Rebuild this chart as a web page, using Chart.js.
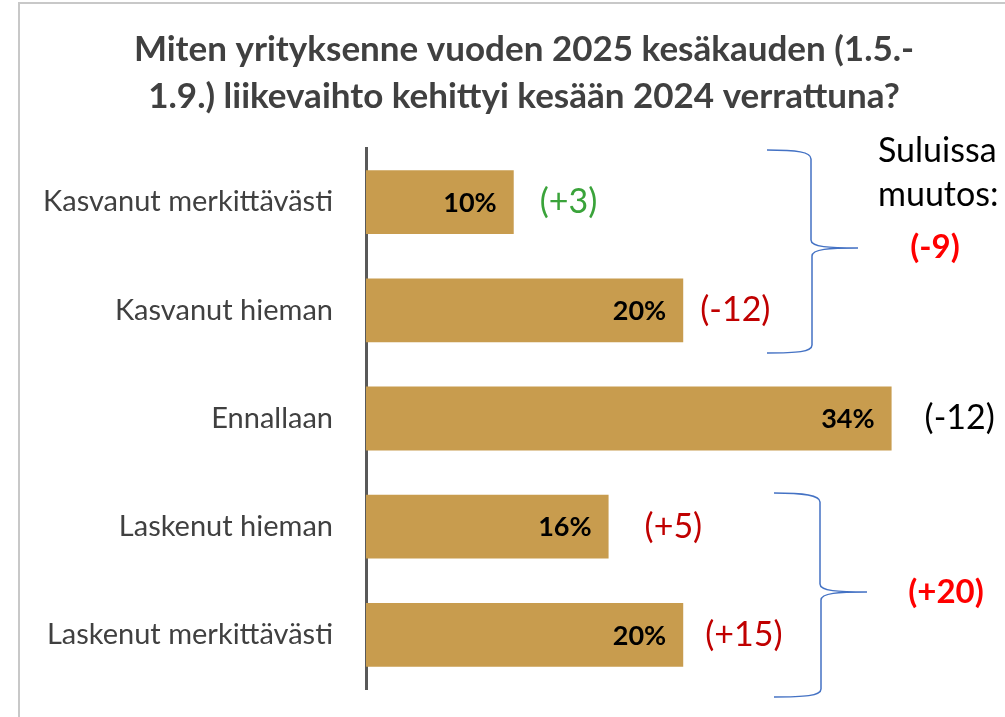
<!DOCTYPE html>
<html lang="fi">
<head>
    <meta charset="UTF-8">
    <title>Liikevaihdon kehitys kesällä 2025</title>
    <script src="https://cdn.jsdelivr.net/npm/chart.js"></script>
    <style>
        body, html {
            margin: 0;
            padding: 0;
            background: #fff;
            overflow: hidden;
        }
        canvas { display: block; }
    </style>
</head>
<body>
    <canvas id="salesChart" width="1005" height="717"></canvas>

    <script>
        const categories = ["Kasvanut merkittävästi", "Kasvanut hieman", "Ennallaan", "Laskenut hieman", "Laskenut merkittävästi"];
        const shares = [9.5, 20.4, 33.8, 15.6, 20.4];
        const changes = ["(+3)", "(-12)", "(-12)", "(+5)", "(+15)"];
        const groupChanges = ["(-9)", "(+20)"];
        const titleLines = ["Miten yrityksenne vuoden 2025 kesäkauden (1.5.-", "1.9.) liikevaihto kehittyi kesään 2024 verrattuna?"];
        const noteLines = ["Suluissa", "muutos:"];

        // styling for the change notes next to the bars
        const changeColors = ['#3AA33A', '#C00000', '#000000', '#C00000', '#C00000'];
        const changeGaps = [26, 17, 33, 36, 22];

        const FONT = 'Lato, "Open Sans", sans-serif';

        // curly brace drawn as a path, x0 = open end, xs = spine, xt = tip
        function brace(ctx, x0, xs, xt, yTop, yMid, yBot) {
            ctx.beginPath();
            ctx.moveTo(x0, yTop);
            ctx.bezierCurveTo(x0 + 30, yTop, xs, yTop + 2, xs, yTop + 9);
            ctx.lineTo(xs, yMid - 8);
            ctx.bezierCurveTo(xs, yMid - 1, xs + 18, yMid, xt, yMid);
            ctx.bezierCurveTo(xs + 18, yMid, xs + 1, yMid + 1, xs + 1, yMid + 8);
            ctx.lineTo(xs + 1, yBot - 8);
            ctx.bezierCurveTo(xs + 1, yBot - 1, x0 + 30, yBot, x0, yBot);
            ctx.stroke();
        }

        const decorations = {
            id: 'decorations',
            beforeDraw(chart) {
                const ctx = chart.ctx;
                ctx.save();
                ctx.fillStyle = '#fff';
                ctx.fillRect(0, 0, chart.width, chart.height);
                ctx.strokeStyle = '#C8C8C8';
                ctx.lineWidth = 2;
                ctx.beginPath();
                ctx.moveTo(19, chart.height);
                ctx.lineTo(19, 3);
                ctx.lineTo(chart.width, 3);
                ctx.stroke();
                ctx.restore();
            },
            afterDatasetsDraw(chart) {
                const ctx = chart.ctx;
                const meta = chart.getDatasetMeta(0);
                ctx.save();
                ctx.textBaseline = 'middle';

                // values inside bars
                ctx.font = 'bold 27px ' + FONT;
                ctx.fillStyle = '#000';
                ctx.textAlign = 'right';
                meta.data.forEach((bar, i) => {
                    ctx.fillText(Math.round(shares[i]) + '%', bar.x - 17, bar.y + 1);
                });

                // change notes
                ctx.font = '34px ' + FONT;
                ctx.textAlign = 'left';
                meta.data.forEach((bar, i) => {
                    ctx.fillStyle = changeColors[i];
                    ctx.fillText(changes[i], bar.x + changeGaps[i], bar.y);
                });

                // title
                ctx.font = 'bold 35px ' + FONT;
                ctx.fillStyle = '#404040';
                ctx.textAlign = 'center';
                ctx.fillText(titleLines[0], 524, 50);
                ctx.fillText(titleLines[1], 524, 97);

                // side note
                ctx.font = '34px ' + FONT;
                ctx.fillStyle = '#000';
                ctx.textAlign = 'left';
                ctx.fillText(noteLines[0], 878, 151);
                ctx.fillText(noteLines[1], 878, 195);

                // braces and group changes
                ctx.strokeStyle = '#4472C4';
                ctx.lineWidth = 1.5;
                brace(ctx, 767, 811, 858, 150, 248, 353);
                brace(ctx, 774, 820, 867, 493, 592, 697);

                ctx.font = 'bold 33px ' + FONT;
                ctx.fillStyle = '#FF0000';
                ctx.textAlign = 'center';
                ctx.fillText(groupChanges[0], 935, 247);
                ctx.fillText(groupChanges[1], 946, 592);
                ctx.restore();
            }
        };

        const ctx = document.getElementById('salesChart').getContext('2d');
        new Chart(ctx, {
            type: 'bar',
            data: {
                labels: categories,
                datasets: [{
                    data: shares,
                    backgroundColor: '#C89C4E',
                    borderWidth: 0,
                    categoryPercentage: 1,
                    barPercentage: 0.59
                }]
            },
            options: {
                indexAxis: 'y',
                responsive: false,
                animation: false,
                devicePixelRatio: 1,
                layout: { padding: { left: 0, right: 17, top: 148, bottom: 28 } },
                scales: {
                    x: { display: false, min: 0, max: 40 },
                    y: {
                        afterFit: scale => {
                            scale.width = 366;
                            scale.paddingTop = 0;
                            scale.paddingBottom = 0;
                        },
                        grid: { display: false, drawTicks: false },
                        border: { display: true, color: '#595959', width: 3 },
                        ticks: {
                            padding: 33,
                            color: '#404040',
                            font: { family: FONT, size: 29 }
                        }
                    }
                },
                plugins: {
                    legend: { display: false },
                    tooltip: { enabled: false }
                }
            },
            plugins: [decorations]
        });
    </script>
</body>
</html>
